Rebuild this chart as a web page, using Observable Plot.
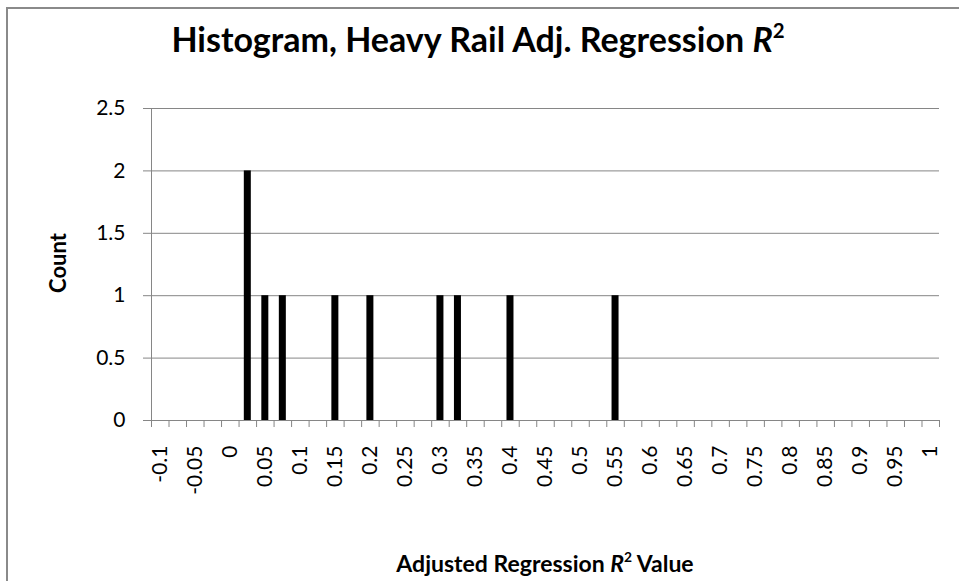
<!DOCTYPE html>
<html>
<head>
<meta charset="utf-8">
<script src="https://cdn.jsdelivr.net/npm/d3@7"></script>
<script src="https://cdn.jsdelivr.net/npm/@observablehq/plot@0.6"></script>
<style>
  html, body { margin: 0; padding: 0; background: #fff; overflow: hidden; }
  #wrap { position: relative; width: 959px; height: 581px; overflow: hidden; background: #fff; }
  #frame { position: absolute; left: 6px; top: 7px; width: 1000px; height: 1000px; border: 2px solid #8a8a8a; box-sizing: border-box; }
  #chart { position: absolute; left: 0; top: 0; }
  .lbl { position: absolute; font-family: Lato, "Noto Sans", sans-serif; font-weight: bold; color: #000; white-space: nowrap; }
  #title { left: 0; width: 956px; text-align: center; top: 18px; font-size: 34px; }
  #xlabel { left: 0; width: 1090px; text-align: center; top: 549px; font-size: 23px; }
  #ylabel { left: 57px; top: 263px; font-size: 22px; transform: translate(-50%, -50%) rotate(-90deg); }
  sup { font-size: 0.6em; line-height: 0; vertical-align: 0.7em; }
</style>
</head>
<body>
<div id="wrap">
  <div id="frame"></div>
  <div id="chart"></div>
  <div class="lbl" id="title">Histogram, Heavy Rail Adj. Regression <i>R</i><sup>2</sup></div>
  <div class="lbl" id="ylabel">Count</div>
  <div class="lbl" id="xlabel">Adjusted Regression <i>R</i><sup>2</sup> Value</div>
</div>
<script>
// Bin centres (category values) that hold data, and their counts
const binCenters = [0.025, 0.05, 0.075, 0.15, 0.2, 0.3, 0.325, 0.4, 0.55];
const counts     = [2, 1, 1, 1, 1, 1, 1, 1, 1];

// Labelled categories on the x axis (every other category is labelled)
const xTickValues = [-0.1, -0.05, 0, 0.05, 0.1, 0.15, 0.2, 0.25, 0.3, 0.35, 0.4, 0.45,
                     0.5, 0.55, 0.6, 0.65, 0.7, 0.75, 0.8, 0.85, 0.9, 0.95, 1];
const yTickValues = [0, 0.5, 1, 1.5, 2, 2.5];

const binStep = 0.025;           // category spacing
const firstBin = -0.1, lastBin = 1.0;

const data = binCenters.map((b, i) => ({bin: b, count: counts[i]}));
const boundaries = d3.range(Math.round((lastBin - firstBin) / binStep) + 2)
  .map(k => firstBin - binStep / 2 + k * binStep);
const halfBar = binStep * 0.2;   // bar occupies 40% of the category

const gray = "#868686";
const chart = Plot.plot({
  width: 959,
  height: 581,
  marginLeft: 151,
  marginRight: 20,
  marginTop: 108,
  marginBottom: 161,
  style: {fontFamily: "Lato, 'Noto Sans', sans-serif", fontSize: "21px", color: "#000", background: "transparent"},
  x: {domain: [firstBin - binStep / 2, lastBin + binStep / 2]},
  y: {domain: [0, 2.5]},
  marks: [
    Plot.gridY(yTickValues, {stroke: gray, strokeOpacity: 1, strokeWidth: 1}),
    Plot.axisY({ticks: yTickValues, tickSize: 8, tickPadding: 18, stroke: gray, label: null,
                tickFormat: d => String(d)}),
    Plot.ruleX([firstBin - binStep / 2], {stroke: gray}),
    Plot.ruleY([0], {stroke: gray}),
    Plot.axisX({ticks: boundaries, tickSize: 7, stroke: gray, tickFormat: () => "", label: null}),
    Plot.axisX({ticks: xTickValues, tickSize: 0, tickPadding: 25, tickRotate: -90, label: null,
                tickFormat: d => String(d)}),
    Plot.rectY(data, {x1: d => d.bin - halfBar, x2: d => d.bin + halfBar, y: "count", fill: "#000"})
  ]
});
document.getElementById("chart").appendChild(chart);
</script>
</body>
</html>
